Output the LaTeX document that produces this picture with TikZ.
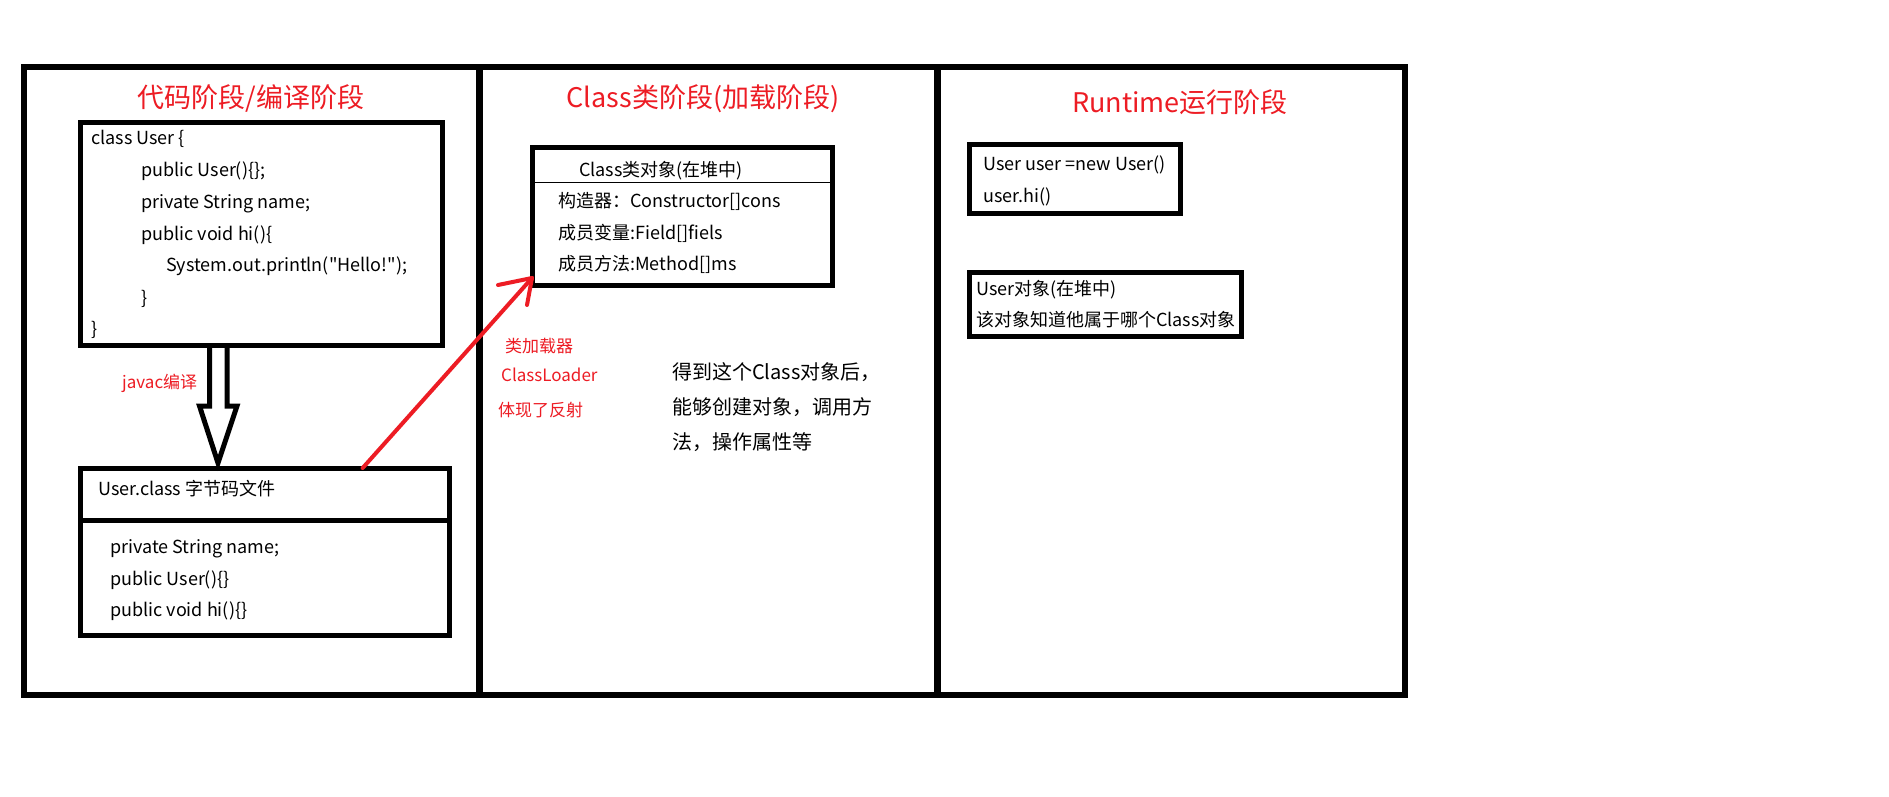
\documentclass[tikz,border=0pt]{standalone}
\usepackage{fontspec}
\setmainfont{Noto Sans CJK SC}[Ligatures=TeXOff]
\usetikzlibrary{calc}
\definecolor{redc}{RGB}{237,28,36}
\tikzset{
  panel/.style={draw, line width=5.5pt, inner sep=0pt, outer sep=0pt},
  box/.style={draw, line width=5pt, inner sep=0pt, outer sep=0pt},
  title/.style={text=redc, inner sep=0pt, font=\fontsize{27}{32}\selectfont},
  txt/.style={anchor=west, inner sep=0pt, text height=14pt, text depth=0pt, font=\fontsize{18}{22}\selectfont},
  rtxt/.style={txt, text=redc, font=\fontsize{17}{20}\selectfont},
  ptxt/.style={txt, font=\fontsize{20}{24}\selectfont},
  hollow/.style={draw, line width=5pt, line join=miter},
  redarrow/.style={draw=redc, line width=4pt, line cap=round, line join=round}
}
\begin{document}
\begin{tikzpicture}[x=1pt,y=-1pt]
\useasboundingbox[fill=white] (0,0) rectangle (1889,797);

% panels
\node[panel, minimum width=456pt, minimum height=628pt] (p1) at (252,381) {};
\node[panel, minimum width=458pt, minimum height=628pt] (p2) at (708,381) {};
\node[panel, minimum width=467pt, minimum height=628pt] (p3) at (1171.5,381) {};

% titles
\node[title] (t1) at (251,98) {代码阶段/编译阶段};
\node[title] (t2) at (703,99) {Class类阶段(加载阶段)};
\node[title] (t3) at (1180,102) {Runtime运行阶段};

% code box
\node[box, minimum width=362pt, minimum height=222pt] (code) at (261,234) {};
\node[txt] (c1) at (91,137) {class User \{};
\node[txt] (c2) at (141,169) {public User()\{\};};
\node[txt] (c3) at (141,201) {private String name;};
\node[txt] (c4) at (141,233) {public void hi()\{};
\node[txt] (c5) at (166,264) {System.out.println("Hello!");};
\node[txt] (c6) at (141,297) {\}};
\node[txt] (c7) at (91,328) {\}};

% User.class box
\node[box, minimum width=369pt, minimum height=167pt] (ucls) at (264.5,551.5) {};
\draw[line width=5pt] (ucls.west |- 0,520) -- (ucls.east |- 0,520);
\node[txt] (u0) at (98,488) {User.class 字节码文件};
\node[txt] (u1) at (110,546) {private String name;};
\node[txt] (u2) at (110,578) {public User()\{\}};
\node[txt] (u3) at (110,609) {public void hi()\{\}};

% hollow compile arrow
\coordinate (hs) at (218,345);
\coordinate (ht) at (218,463);
\draw[hollow] (hs) ++(-8.5,0) -- ++(0,61) -- ++(-10,0) -- (ht) -- ++(19,-57) -- ++(-10,0) -- ++(0,-61);
\node[rtxt] (jv) at (122,381) {javac编译};

% Class object box
\node[box, minimum width=300pt, minimum height=138pt] (cobj) at (682,216) {};
\draw[line width=1pt] (cobj.west |- 0,182) -- (cobj.east |- 0,182);
\node[txt] (o0) at (579,169) {Class类对象(在堆中)};
\node[txt] (o1) at (558,200) {构造器：Constructor[]cons};
\node[txt] (o2) at (558,232) {成员变量:Field[]fiels};
\node[txt] (o3) at (558,263) {成员方法:Method[]ms};

% red loader arrow
\coordinate (rs) at ($(ucls.north west)!0.766!(ucls.north east)$);
\coordinate (re) at ([yshift=7pt]cobj.south west);
\draw[redarrow] (rs) -- (re);
\draw[redarrow] (re) -- ++(-34,7);
\draw[redarrow] (re) -- ++(-5,27);

\node[rtxt] (l1) at (505,345) {类加载器};
\node[rtxt] (l2) at (501,374) {ClassLoader};
\node[rtxt] (l3) at (498,409) {体现了反射};

\node[ptxt] (d1) at (672,372) {得到这个Class对象后，};
\node[ptxt] (d2) at (672,407) {能够创建对象，调用方};
\node[ptxt] (d3) at (672,442) {法，操作属性等};

% runtime boxes
\node[box, minimum width=211pt, minimum height=69pt] (rt1) at (1074.5,178.5) {};
\node[txt] (r1) at (983,163) {User user =new User()};
\node[txt] (r2) at (983,195) {user.hi()};
\node[box, minimum width=272pt, minimum height=64pt] (rt2) at (1105,304) {};
\node[txt] (r3) at (976,288) {User对象(在堆中)};
\node[txt] (r4) at (976,319) {该对象知道他属于哪个Class对象};
\end{tikzpicture}
\end{document}
